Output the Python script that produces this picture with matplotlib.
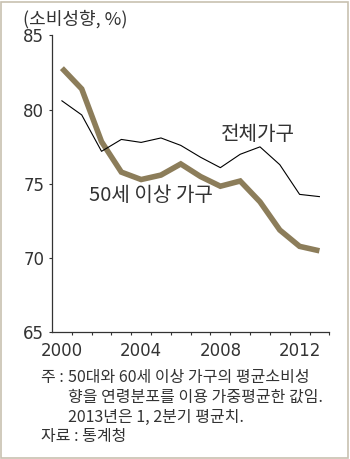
import numpy as np
import matplotlib
matplotlib.use("Agg")
import matplotlib.pyplot as plt
from matplotlib.patches import Rectangle

plt.rcParams['font.family'] = ['Noto Sans CJK KR', 'DejaVu Sans']

years = np.arange(2000, 2014)
# 전체가구 (thin black)
all_households = [80.6, 79.65, 77.2, 78.0, 77.8, 78.1, 77.6, 76.8, 76.1, 77.0, 77.5, 76.3, 74.3, 74.15]
# 50세 이상 가구 (thick tan)
over50_households = [82.8, 81.4, 77.85, 75.8, 75.3, 75.6, 76.35, 75.5, 74.85, 75.2, 73.8, 71.9, 70.8, 70.5]

yticks = [65, 70, 75, 80, 85]
xtick_years = [2000, 2004, 2008, 2012]

TAN = "#8c7d5a"
TEXT = "#333333"

fig = plt.figure(figsize=(3.5, 4.59), dpi=100)
ax = fig.add_axes([0.1486, 0.2756, 0.9409 - 0.1486, 0.9227 - 0.2756])

ax.plot(years, over50_households, color=TAN, lw=4.0, solid_joinstyle="miter", solid_capstyle="butt", zorder=2)
ax.plot(years, all_households, color="black", lw=0.8, zorder=3)

ax.set_xlim(1999.5, 2013.5)
ax.set_ylim(65, 85)
ax.set_yticks(yticks)
ax.set_xticks(xtick_years)
ax.set_xticks(np.arange(2000.5, 2014.0, 1.0), minor=True)

for side in ("top", "right"):
	ax.spines[side].set_visible(False)
for side in ("left", "bottom"):
	ax.spines[side].set_color(TEXT)
	ax.spines[side].set_linewidth(0.9)

ax.tick_params(axis="y", direction="out", length=2.5, width=0.8, color=TEXT,
			   labelsize=12, labelcolor=TEXT, pad=3)
ax.tick_params(axis="x", which="major", length=0, labelsize=12, labelcolor=TEXT, pad=7)
ax.tick_params(axis="x", which="minor", direction="out", length=2.5, width=0.8, color=TEXT)
for lab in ax.get_xticklabels() + ax.get_yticklabels():
	lab.set_family("DejaVu Sans")

ax.text(2009.9, 78.3, "전체가구", fontsize=14.5, color=TEXT, ha="center", va="center")
ax.text(2004.47, 74.2, "50세 이상 가구", fontsize=14.5, color=TEXT, ha="center", va="center")

fig.text(0.066, 0.9575, "(소비성향, %)", fontsize=13, color=TEXT, ha="left", va="center")

fig.text(0.117, 0.1765, "주 :", fontsize=11.5, color=TEXT, ha="left", va="center")
fig.text(0.194, 0.1765, "50대와 60세 이상 가구의 평균소비성", fontsize=11.5, color=TEXT, ha="left", va="center")
fig.text(0.194, 0.134, "향을 연령분포를 이용 가중평균한 값임.", fontsize=11.5, color=TEXT, ha="left", va="center")
fig.text(0.194, 0.0915, "2013년은 1, 2분기 평균치.", fontsize=11.5, color=TEXT, ha="left", va="center")
fig.text(0.117, 0.049, "자료 : 통계청", fontsize=11.5, color=TEXT, ha="left", va="center")

fig.patches.append(Rectangle((0.004, 0.003), 0.990, 0.993, transform=fig.transFigure,
							 fill=False, edgecolor="#c8c1b0", lw=1.2))

fig.savefig("out.png", dpi=100)
